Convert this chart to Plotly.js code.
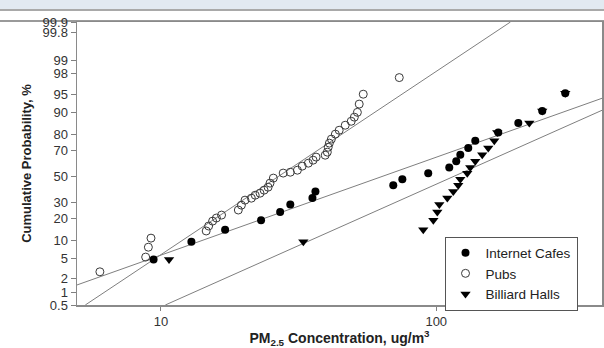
<!DOCTYPE html>
<html>
<head>
<meta charset="utf-8">
<script src="https://cdn.plot.ly/plotly-3.0.1.min.js"></script>
<style>
  html, body { margin: 0; padding: 0; }
  body {
    width: 604px; height: 348px; overflow: hidden;
    background: linear-gradient(to bottom,
      #e2e9f1 0px, #e2e9f1 9px,
      #a9a9a9 9px, #a9a9a9 11px,
      #ffffff 11px, #ffffff 20.5px,
      #9a9a9a 20.5px, #9a9a9a 22.5px,
      #ffffff 22.5px, #ffffff 348px);
  }
  #chart { width: 604px; height: 348px; }
</style>
</head>
<body>
<div id="chart"></div>
<script>
// ---- data (PM2.5 concentration in ug/m3, cumulative probability in %) ----
const cafeX = [9.4, 12.9, 17.1, 23.1, 27.1, 29.5, 35.5, 36.4, 69.8, 75.3,
               93.5, 111.5, 118.2, 122.3, 130.7, 138.6, 168, 198.6, 242.7, 294.2];
const cafeP = [4.8, 9.5, 14.3, 19.0, 23.8, 28.6, 33.3, 38.1, 42.9, 47.6,
               52.4, 57.1, 61.9, 66.7, 71.4, 76.2, 81.0, 85.7, 90.5, 95.2];

const pubsX = [6.0, 8.8, 9.0, 9.2, 14.6, 14.9, 15.4, 15.9, 16.6, 19.1,
               19.6, 20.2, 21.3, 22.0, 22.9, 23.7, 24.5, 24.9, 25.6, 27.8,
               29.5, 31.3, 32.6, 34.3, 35.7, 36.6, 39.5, 40.2, 40.5, 40.9,
               41.6, 43.0, 44.4, 46.7, 49.1, 50.4, 51.7, 52.5, 54.3, 73.4];
const pubsP = [2.8, 5.3, 7.8, 10.8, 13.7, 16.0, 18.5, 20.2, 21.9, 25.0,
               28.2, 31.7, 33.1, 35.3, 36.8, 39.1, 41.4, 44.6, 48.6, 52.6,
               53.3, 54.9, 58.1, 60.4, 62.7, 65.0, 66.4, 68.6, 72.0, 74.7,
               77.2, 80.1, 82.2, 84.7, 86.5, 88.2, 90.0, 92.6, 95.0, 97.6];

const billX = [10.7, 32.9, 89.7, 97.6, 100.9, 102.6, 109.7, 115.3, 120.2, 122.3,
               129.6, 132.9, 138.6, 146.9, 154.5, 162.5, 166.6, 217.8, 242.7, 294.2];
const billP = [4.8, 9.5, 14.3, 19.0, 23.8, 28.6, 33.3, 38.1, 42.9, 47.6,
               52.4, 57.1, 61.9, 66.7, 71.4, 76.2, 81.0, 85.7, 90.5, 95.2];

// fitted lines (end points)
const cafeFitX = [4.95, 400];  const cafeFitP = [1.48, 94.1];
const pubsFitX = [5.31, 186];  const pubsFitP = [0.5, 99.9];
const billFitX = [10.37, 400]; const billFitP = [0.5, 90.7];

// probability axis ticks
const probTicks = [0.5, 1, 2, 5, 10, 20, 30, 50, 70, 80, 90, 95, 98, 99, 99.8, 99.9];
const probTickText = ['0.5', '1', '2', '5', '10', '20', '30', '50', '70', '80', '90', '95', '98', '99', '99.8', '99.9'];
const xTicks = [10, 100];
const xTickText = ['10', '100'];

// inverse standard normal CDF (Acklam) -> probability-paper scale
function probit(p) {
  const a = [-3.969683028665376e+01, 2.209460984245205e+02, -2.759285104469687e+02, 1.383577518672690e+02, -3.066479806614716e+01, 2.506628277459239e+00];
  const b = [-5.447609879822406e+01, 1.615858368580409e+02, -1.556989798598866e+02, 6.680131188771972e+01, -1.328068155288572e+01];
  const c = [-7.784894002430293e-03, -3.223964580411365e-01, -2.400758277161838e+00, -2.549732539343734e+00, 4.374664141464968e+00, 2.938163982698783e+00];
  const d = [7.784695709041462e-03, 3.224671290700398e-01, 2.445134137142996e+00, 3.754408661907416e+00];
  const pl = 0.02425, ph = 1 - pl;
  let q, r;
  if (p < pl) {
    q = Math.sqrt(-2 * Math.log(p));
    return (((((c[0]*q+c[1])*q+c[2])*q+c[3])*q+c[4])*q+c[5]) / ((((d[0]*q+d[1])*q+d[2])*q+d[3])*q+1);
  }
  if (p > ph) {
    q = Math.sqrt(-2 * Math.log(1 - p));
    return -(((((c[0]*q+c[1])*q+c[2])*q+c[3])*q+c[4])*q+c[5]) / ((((d[0]*q+d[1])*q+d[2])*q+d[3])*q+1);
  }
  q = p - 0.5; r = q * q;
  return (((((a[0]*r+a[1])*r+a[2])*r+a[3])*r+a[4])*r+a[5])*q / (((((b[0]*r+b[1])*r+b[2])*r+b[3])*r+b[4])*r+1);
}
const z = arr => arr.map(v => probit(v / 100));

const FONT = 'Arial, "Liberation Sans", Helvetica, sans-serif';
const lineStyle = { color: '#7f7f7f', width: 1 };

const traces = [
  { x: cafeFitX, y: z(cafeFitP), mode: 'lines', line: lineStyle, showlegend: false, hoverinfo: 'skip' },
  { x: pubsFitX, y: z(pubsFitP), mode: 'lines', line: lineStyle, showlegend: false, hoverinfo: 'skip' },
  { x: billFitX, y: z(billFitP), mode: 'lines', line: lineStyle, showlegend: false, hoverinfo: 'skip' },
  { name: 'Internet Cafes', x: cafeX, y: z(cafeP), mode: 'markers',
    marker: { symbol: 'circle', size: 8, color: '#000000' } },
  { name: 'Pubs', x: pubsX, y: z(pubsP), mode: 'markers',
    marker: { symbol: 'circle-open', size: 8, color: '#3a3a3a', line: { width: 1, color: '#3a3a3a' } } },
  { name: 'Billiard Halls', x: billX, y: z(billP), mode: 'markers',
    marker: { symbol: 'triangle-down', size: 9, color: '#000000' } }
];

const layout = {
  width: 604, height: 348,
  margin: { l: 77, r: 2, t: 22, b: 43 },
  paper_bgcolor: 'rgba(0,0,0,0)',
  plot_bgcolor: 'rgba(0,0,0,0)',
  font: { family: FONT, size: 13, color: '#333333' },
  showlegend: true,
  legend: {
    x: 0.70, y: 0.242, xanchor: 'left', yanchor: 'top',
    bgcolor: '#ffffff', bordercolor: '#555555', borderwidth: 1,
    font: { family: FONT, size: 13.5, color: '#222222' },
    itemwidth: 30
  },
  xaxis: {
    type: 'log',
    range: [Math.log10(4.955), Math.log10(400)],
    tickvals: xTicks, ticktext: xTickText,
    ticks: 'outside', ticklen: 4, tickcolor: '#808080', tickwidth: 1,
    showgrid: false, zeroline: false,
    showline: true, linecolor: '#8a8a8a', linewidth: 1.5, mirror: true,
    tickfont: { family: FONT, size: 13, color: '#333333' },
    title: { text: '<b>PM<sub>2.5</sub> Concentration, ug/m<sup>3</sup></b>',
             font: { family: FONT, size: 14, color: '#222222' }, standoff: 5 },
    automargin: false
  },
  yaxis: {
    range: [probit(0.005), probit(0.999)],
    tickvals: z(probTicks), ticktext: probTickText,
    ticks: 'outside', ticklen: 5, tickcolor: '#808080', tickwidth: 1,
    showgrid: false, zeroline: false,
    showline: true, linecolor: '#8a8a8a', linewidth: 1.5, mirror: true,
    tickfont: { family: FONT, size: 13, color: '#333333' },
    title: { text: '<b>Cumulative Probability, %</b>',
             font: { family: FONT, size: 13, color: '#222222' }, standoff: 8 },
    automargin: false
  }
};

Plotly.newPlot('chart', traces, layout, { staticPlot: true, displayModeBar: false });
</script>
</body>
</html>
